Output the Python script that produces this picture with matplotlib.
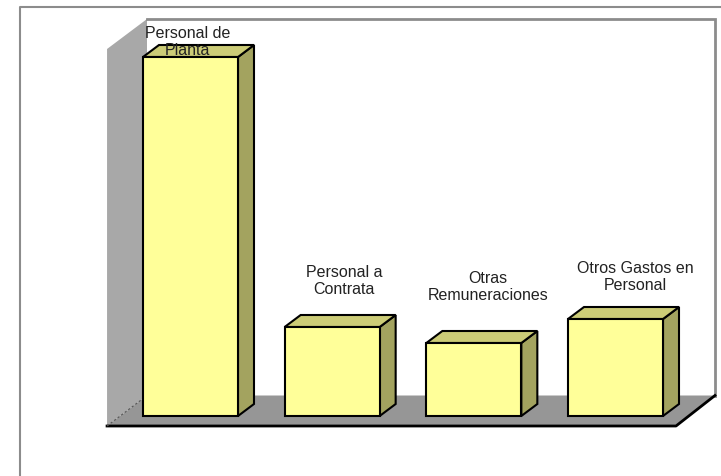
import matplotlib
matplotlib.use("Agg")
import matplotlib.pyplot as plt
from matplotlib.patches import Polygon
from matplotlib.lines import Line2D

# ---- data ----
categories = ["Personal de\nPlanta", "Personal a\nContrata", "Otras\nRemuneraciones",
              "Otros Gastos en\nPersonal"]
values = [3590, 890, 730, 970]

# ---- style / layout ----
FRONT = "#FFFF99"
TOP = "#CCCC77"
SIDE = "#A3A35F"
WALL_SIDE = "#A8A8A8"
FLOOR = "#969696"
BORDER = "#8C8C8C"
TEXT = "#222222"

W, H, DPI = 7.21, 4.77, 100
fig = plt.figure(figsize=(W, H), dpi=DPI)
fig.patch.set_facecolor("white")

# axes in which x = category index, y = value
spacing_px = 141.67
left_px = 190.5 - 0.5 * spacing_px
ax = fig.add_axes([left_px / 721, 60 / 477, 4 * spacing_px / 721, 400 / 477])
ax.set_xlim(-0.5, 3.5)
ax.set_ylim(0, 4000)
ax.axis("off")

bar_w = 0.6706
dx = 0.1129      # depth offset in category units
dy = 120         # depth offset in value units

# walls and floor (in the same data space)
fl_front_y, fl_back_y = -100, 205
fl_x0, fl_x1 = -0.589, 3.427
bk_x0, bk_x1 = -0.307, 3.702
wall_top, side_top = 3970, 3670

side_wall = Polygon([(fl_x0, fl_front_y), (bk_x0, fl_back_y), (bk_x0, wall_top), (fl_x0, side_top)],
                    closed=True, facecolor=WALL_SIDE, edgecolor="none", clip_on=False, zorder=1)
ax.add_patch(side_wall)
back_wall = Polygon([(bk_x0, fl_back_y), (bk_x1, fl_back_y), (bk_x1, wall_top), (bk_x0, wall_top)],
                    closed=True, facecolor="white", edgecolor="none", clip_on=False, zorder=1)
ax.add_patch(back_wall)
ax.add_line(Line2D([bk_x0, bk_x1, bk_x1], [wall_top, wall_top, fl_back_y], color=BORDER, lw=2,
                   clip_on=False, zorder=2, solid_joinstyle="miter"))
floor = Polygon([(fl_x0, fl_front_y), (fl_x1, fl_front_y), (bk_x1, fl_back_y), (bk_x0, fl_back_y)],
                closed=True, facecolor=FLOOR, edgecolor="none", clip_on=False, zorder=2)
ax.add_patch(floor)
ax.add_line(Line2D([fl_x0, fl_x1, bk_x1], [fl_front_y, fl_front_y, fl_back_y], color="black", lw=2,
                   clip_on=False, zorder=3))
ax.add_line(Line2D([fl_x0, bk_x0], [fl_front_y, fl_back_y], color="#555555", lw=0.8, ls=(0, (2, 2)),
                   clip_on=False, zorder=3))

# bars
for i, v in enumerate(values):
    x0 = i - bar_w / 2
    x1 = i + bar_w / 2
    front = [(x0, 0), (x1, 0), (x1, v), (x0, v)]
    top = [(x0, v), (x1, v), (x1 + dx, v + dy), (x0 + dx, v + dy)]
    side = [(x1, 0), (x1 + dx, dy), (x1 + dx, v + dy), (x1, v)]
    for pts, col in ((side, SIDE), (top, TOP), (front, FRONT)):
        ax.add_patch(Polygon(pts, closed=True, facecolor=col, edgecolor="black", lw=1.5,
                             joinstyle="miter", clip_on=False, zorder=5))

# labels (baseline of last line)
label_dx = [-0.02, 0.085, 0.10, 0.14]
label_dy = [30, 340, 440, 300]
for i, (c, v) in enumerate(zip(categories, values)):
    ax.text(i + label_dx[i], v + label_dy[i], c, ha="center", va="baseline", fontsize=11.5,
            family="Liberation Sans", color=TEXT, linespacing=1.2, multialignment="center",
            zorder=10, clip_on=False)

# outer frame (left and top)
fig.add_artist(Line2D([20 / 721, 20 / 721, 1.0], [0, 1 - 8 / 477, 1 - 8 / 477],
                      transform=fig.transFigure, color=BORDER, lw=1.5))

fig.savefig("out.png", dpi=DPI)
